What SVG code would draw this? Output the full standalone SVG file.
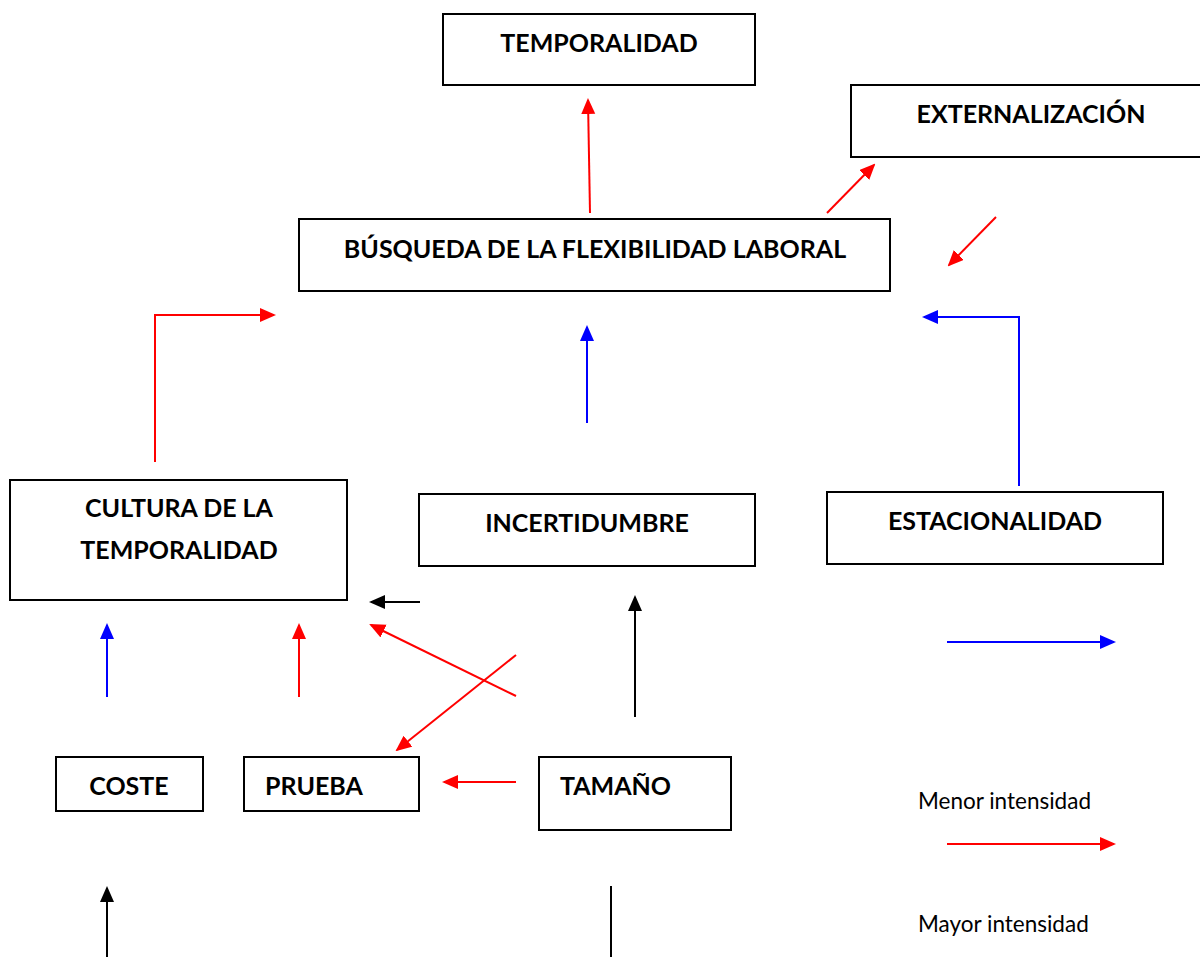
<svg xmlns="http://www.w3.org/2000/svg" width="1200" height="957" viewBox="0 0 1200 957">
<style>
.box{fill:#fff;stroke:#000;stroke-width:2}
.t{font-family:Lato,"Open Sans","Liberation Sans",sans-serif;font-weight:bold;font-size:25px;fill:#000}
.c{text-anchor:middle}
.l{font-family:Lato,"Open Sans","Liberation Sans",sans-serif;font-size:22.5px;fill:#000}
.r{stroke:#f00;stroke-width:2;fill:none}
.b{stroke:#00f;stroke-width:2;fill:none}
.k{stroke:#000;stroke-width:2;fill:none}
</style>
<defs>
<marker id="mr" markerUnits="userSpaceOnUse" markerWidth="16" markerHeight="16" refX="14" refY="7" orient="auto"><path d="M0,0 L16,7 L0,14 Z" fill="#f00"/></marker>
<marker id="mb" markerUnits="userSpaceOnUse" markerWidth="16" markerHeight="16" refX="14" refY="7" orient="auto"><path d="M0,0 L16,7 L0,14 Z" fill="#00f"/></marker>
<marker id="mk" markerUnits="userSpaceOnUse" markerWidth="16" markerHeight="16" refX="14" refY="7" orient="auto"><path d="M0,0 L16,7 L0,14 Z" fill="#000"/></marker>
</defs>
<rect width="1200" height="957" fill="#fff"/>
<g id="temporalidad"><rect class="box" x="443" y="14" width="312" height="71"/><text class="t c" x="599" y="52">TEMPORALIDAD</text></g>
<g id="externalizacion"><rect class="box" x="851" y="85" width="360" height="72"/><text class="t c" x="1031" y="123">EXTERNALIZACIÓN</text></g>
<g id="busqueda"><rect class="box" x="299" y="219" width="591" height="72"/><text class="t c" x="595" y="258">BÚSQUEDA DE LA FLEXIBILIDAD LABORAL</text></g>
<g id="cultura"><rect class="box" x="10" y="480" width="337" height="120"/><text class="t c" x="179" y="517">CULTURA DE LA</text><text class="t c" x="179" y="559">TEMPORALIDAD</text></g>
<g id="incertidumbre"><rect class="box" x="419" y="494" width="336" height="72"/><text class="t c" x="587" y="532">INCERTIDUMBRE</text></g>
<g id="estacionalidad"><rect class="box" x="827" y="492" width="336" height="72"/><text class="t c" x="995" y="530">ESTACIONALIDAD</text></g>
<g id="coste"><rect class="box" x="56" y="757" width="147" height="54"/><text class="t c" x="129" y="795">COSTE</text></g>
<g id="prueba"><rect class="box" x="244" y="757" width="175" height="54"/><text class="t" x="265" y="795">PRUEBA</text></g>
<g id="tamano"><rect class="box" x="539" y="757" width="192" height="73"/><text class="t" x="560" y="795">TAMAÑO</text></g>
<g id="leyenda"><text class="l" x="918" y="809">Menor intensidad</text><text class="l" x="918" y="932">Mayor intensidad</text></g>
<g id="connectors">
<line class="r" x1="590" y1="213" x2="588" y2="100" marker-end="url(#mr)"/>
<line class="r" x1="827" y1="213" x2="874" y2="165" marker-end="url(#mr)"/>
<line class="r" x1="996" y1="217" x2="949" y2="265" marker-end="url(#mr)"/>
<polyline class="r" points="155,462 155,315 274,315" marker-end="url(#mr)"/>
<line class="b" x1="587" y1="423" x2="587" y2="327" marker-end="url(#mb)"/>
<polyline class="b" points="1019,486 1019,317 924,317" marker-end="url(#mb)"/>
<line class="k" x1="420" y1="602" x2="371" y2="602" marker-end="url(#mk)"/>
<line class="b" x1="107" y1="697" x2="107" y2="625" marker-end="url(#mb)"/>
<line class="r" x1="299" y1="697" x2="299" y2="625" marker-end="url(#mr)"/>
<line class="r" x1="516" y1="696" x2="371" y2="625" marker-end="url(#mr)"/>
<line class="r" x1="516" y1="655" x2="397" y2="750" marker-end="url(#mr)"/>
<line class="k" x1="635" y1="717" x2="635" y2="597" marker-end="url(#mk)"/>
<line class="r" x1="516" y1="782" x2="444" y2="782" marker-end="url(#mr)"/>
<line class="k" x1="107" y1="957" x2="107" y2="888" marker-end="url(#mk)"/>
<line class="k" x1="611" y1="886" x2="611" y2="957"/>
<line class="b" x1="947" y1="642" x2="1114" y2="642" marker-end="url(#mb)"/>
<line class="r" x1="947" y1="844" x2="1114" y2="844" marker-end="url(#mr)"/>
</g>
</svg>
